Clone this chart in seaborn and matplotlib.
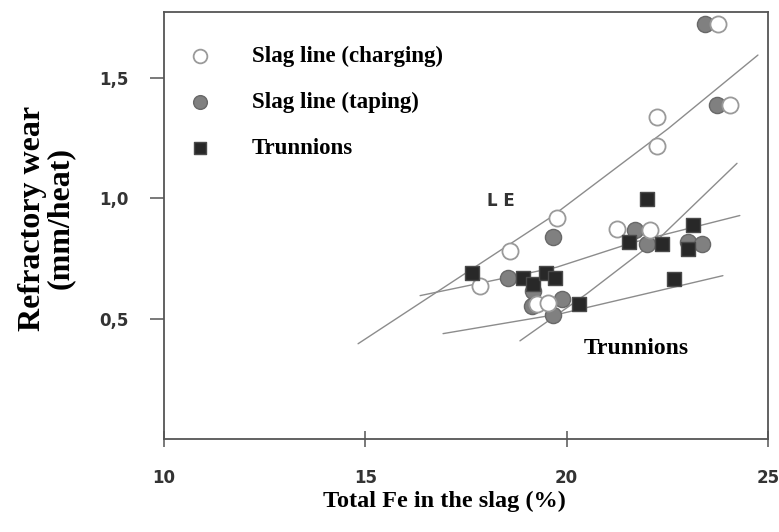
import matplotlib
matplotlib.use("Agg")
import matplotlib.pyplot as plt
import seaborn as sns

# ---------------- data ----------------
charging_x = [17.85, 18.59, 19.26, 19.54, 19.76, 21.25, 22.07, 22.24, 22.24, 23.76, 24.05]
charging_y = [0.638, 0.783, 0.562, 0.567, 0.917, 0.871, 0.867, 1.217, 1.338, 1.725, 1.390]

taping_x = [18.54, 19.66, 19.16, 19.14, 19.88, 19.66, 21.70, 21.99, 23.01, 23.36, 23.43, 23.73]
taping_y = [0.670, 0.840, 0.617, 0.554, 0.580, 0.517, 0.870, 0.812, 0.817, 0.812, 1.725, 1.388]

trunnions_x = [17.65, 18.91, 19.16, 19.49, 19.71, 20.31, 21.99, 21.55, 22.37, 23.14, 23.01, 22.66]
trunnions_y = [0.690, 0.670, 0.646, 0.688, 0.670, 0.562, 0.996, 0.820, 0.810, 0.890, 0.790, 0.667]

# fitted trend lines
le_line_x = [14.82, 19.59, 22.52, 24.75]
le_line_y = [0.396, 0.920, 1.290, 1.596]
taping_line_x = [16.36, 19.75, 21.65, 24.30]
taping_line_y = [0.596, 0.714, 0.817, 0.929]
steep_line_x = [18.84, 20.50, 22.32, 24.23]
steep_line_y = [0.408, 0.604, 0.838, 1.146]
trunnion_line_x = [16.93, 19.83, 23.88]
trunnion_line_y = [0.438, 0.520, 0.679]

x_ticks = [10, 15, 20, 25]
x_tick_labels = ["10", "15", "20", "25"]
y_ticks = [0.5, 1.0, 1.5]
y_tick_labels = ["0,5", "1,0", "1,5"]

series_labels = ["Slag line (charging)", "Slag line (taping)", "Trunnions"]

# ---------------- figure ----------------
sns.set_theme(style="white")
plt.rcParams["font.family"] = ["DejaVu Sans"]

W, H = 779, 532
fig = plt.figure(figsize=(W / 100, H / 100), dpi=100)
ax = fig.add_axes([164 / W, 1 - 439 / H, 604 / W, 427 / H])

line_color = "#8c8c8c"
for lx, ly in [(le_line_x, le_line_y), (taping_line_x, taping_line_y),
               (steep_line_x, steep_line_y), (trunnion_line_x, trunnion_line_y)]:
    sns.lineplot(x=lx, y=ly, ax=ax, color=line_color, linewidth=1.0,
                 sort=False, estimator=None, zorder=1)

sns.scatterplot(x=taping_x, y=taping_y, ax=ax, marker="o", s=135,
                color="#808080", edgecolor="#686868", linewidth=1.0,
                label=series_labels[1], zorder=3)
sns.scatterplot(x=charging_x, y=charging_y, ax=ax, marker="o", s=135,
                color="white", edgecolor="#9a9a9a", linewidth=1.3,
                label=series_labels[0], zorder=4)
sns.scatterplot(x=trunnions_x, y=trunnions_y, ax=ax, marker="s", s=105,
                color="#282828", edgecolor="#4a4a4a", linewidth=1.0,
                label=series_labels[2], zorder=5)

ax.set_xlim(10, 25)
ax.set_ylim(0, 1.775)

handles, labels = ax.get_legend_handles_labels()
order = [labels.index(l) for l in series_labels]
serif_bold = {"family": "Liberation Serif", "weight": "bold", "size": 16.5}
ax.legend([handles[i] for i in order], [labels[i] for i in order],
          loc="upper left", bbox_to_anchor=(0.0406, 0.920), frameon=False,
          prop=serif_bold, handlelength=1.0, handletextpad=1.77,
          labelspacing=1.07, borderaxespad=0, borderpad=0,
          scatterpoints=1, markerscale=0.85, labelcolor="black")

ax.text(20.43, 0.375, "Trunnions", family="Liberation Serif", weight="bold",
        size=17, ha="left", va="center", color="black")
ax.text(18.02, 0.99, "L E", family="DejaVu Sans", weight="bold", size=12,
        ha="left", va="center", color="#333333")

ax.set_xticks(x_ticks)
ax.set_xticklabels(x_tick_labels)
ax.set_yticks(y_ticks)
ax.set_yticklabels(y_tick_labels)
ax.tick_params(axis="x", bottom=True, direction="inout", length=11, width=1.1,
               color="#555555", pad=16, labelsize=12, labelcolor="#333333")
ax.tick_params(axis="y", left=True, direction="out", length=10, width=1.1,
               color="#555555", pad=15.5, labelsize=12, labelcolor="#333333")
for lab in ax.get_xticklabels() + ax.get_yticklabels():
    lab.set_fontweight("bold")

for sp in ax.spines.values():
    sp.set_color("#555555")
    sp.set_linewidth(1.3)

ax.set_ylabel("Refractory wear\n(mm/heat)", family="Liberation Serif",
              weight="bold", size=23, linespacing=0.95, va="center",
              ha="center", color="black")
ax.yaxis.set_label_coords(-0.1954, 0.5176)
ax.set_xlabel("Total Fe in the slag (%)", family="Liberation Serif",
              weight="bold", size=17.5, va="center", color="black")
ax.xaxis.set_label_coords(0.465, -0.145)

fig.savefig("out.png", dpi=100, facecolor="white")
